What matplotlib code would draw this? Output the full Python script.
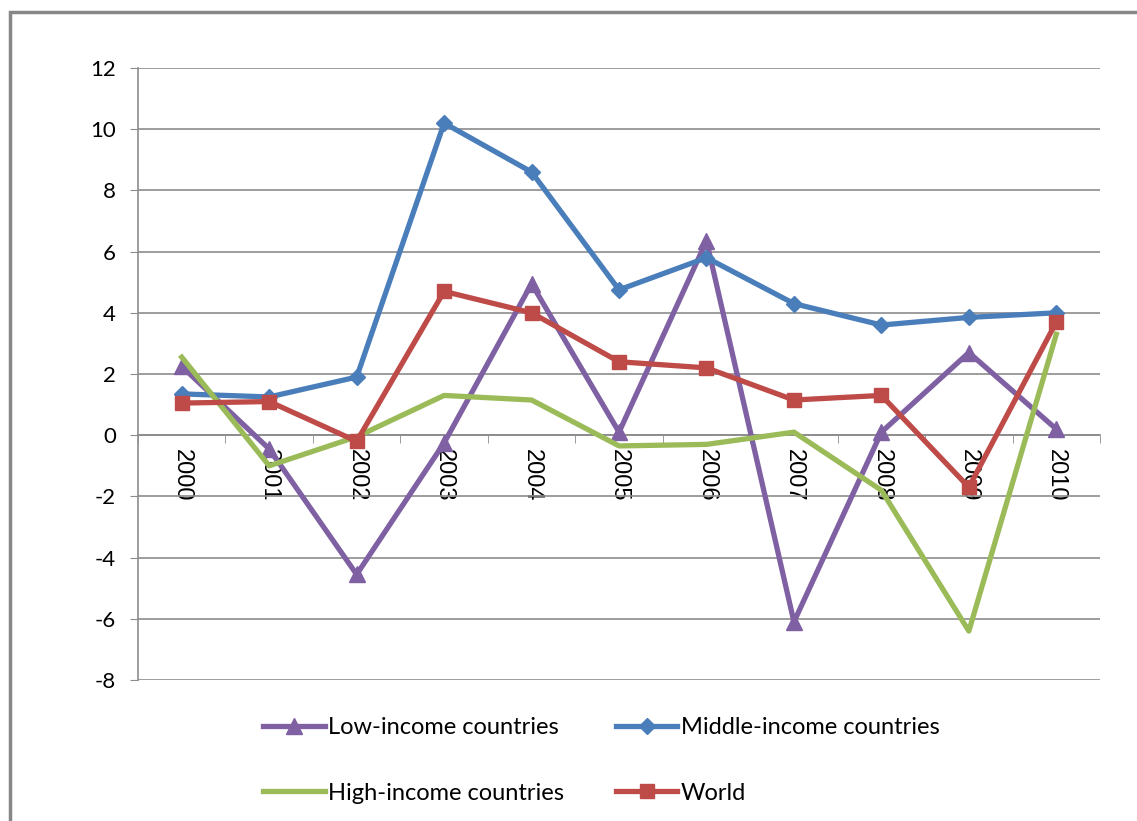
import numpy as np
import matplotlib
matplotlib.use("Agg")
import matplotlib.pyplot as plt
from matplotlib.patches import Rectangle

plt.rcParams['font.family'] = ['Lato', 'DejaVu Sans']
plt.rcParams['axes.unicode_minus'] = False

years = ['2000', '2001', '2002', '2003', '2004', '2005', '2006', '2007', '2008', '2009', '2010']
low_income = [2.25, -0.45, -4.55, -0.25, 4.95, 0.1, 6.35, -6.1, 0.1, 2.7, 0.2]
middle_income = [1.35, 1.25, 1.9, 10.2, 8.6, 4.75, 5.8, 4.3, 3.6, 3.85, 4.0]
high_income = [2.55, -1.0, -0.05, 1.3, 1.15, -0.35, -0.3, 0.1, -1.8, -6.4, 3.3]
world = [1.05, 1.1, -0.2, 4.7, 4.0, 2.4, 2.2, 1.15, 1.3, -1.7, 3.7]

fig = plt.figure(figsize=(11.37, 8.21), dpi=100)
ax = fig.add_axes([0.1214, 0.1717, 0.8461, 0.7455])

x = np.arange(len(years))
lw = 3.8
h_low, = ax.plot(x, low_income, color='#7F60A3', lw=lw, marker='^', ms=11, label='Low-income countries', zorder=3)
h_mid, = ax.plot(x, middle_income, color='#4A7EBB', lw=lw, marker='D', ms=8, label='Middle-income countries', zorder=4)
h_high, = ax.plot(x, high_income, color='#9BBB59', lw=lw, label='High-income countries', zorder=5)
h_world, = ax.plot(x, world, color='#BE4B48', lw=lw, marker='s', ms=10, label='World', zorder=6)

ax.set_xlim(-0.5, len(years) - 0.5)
ax.set_ylim(-8, 12)
ax.set_yticks(np.arange(-8, 13, 2))
ax.yaxis.grid(True, color='#8C8C8C', lw=1.2)
ax.set_axisbelow(True)

for s in ['top', 'right']:
    ax.spines[s].set_visible(False)
ax.spines['left'].set_color('#8C8C8C')
ax.spines['left'].set_linewidth(1.2)
ax.spines['bottom'].set_position(('data', 0))
ax.spines['bottom'].set_color('#8C8C8C')
ax.spines['bottom'].set_linewidth(1.2)

ax.set_xticks(x)
ax.set_xticklabels(years, rotation=-90, fontsize=17, family='Liberation Sans')
ax.set_xticks(np.arange(-0.5, len(years), 1), minor=True)
ax.tick_params(axis='x', which='major', length=0, pad=10)
ax.tick_params(axis='x', which='minor', length=6, color='#8C8C8C', direction='out')
for lab in ax.get_xticklabels():
    lab.set_verticalalignment('top')
ax.tick_params(axis='y', labelsize=16, length=6, color='#8C8C8C', pad=10)

leg = fig.legend(handles=[h_low, h_high, h_mid, h_world], ncol=2, loc='center',
                 bbox_to_anchor=(0.529, 0.074), frameon=False, fontsize=17,
                 handlelength=2.6, handletextpad=0.15, columnspacing=2.2,
                 labelspacing=1.9)

fig.add_artist(Rectangle((10 / 1137, -0.1), 1.2, 1.1 - 12 / 821,
                         transform=fig.transFigure, fill=False,
                         edgecolor='#878787', lw=2.5))

fig.savefig('out.png', dpi=100)
